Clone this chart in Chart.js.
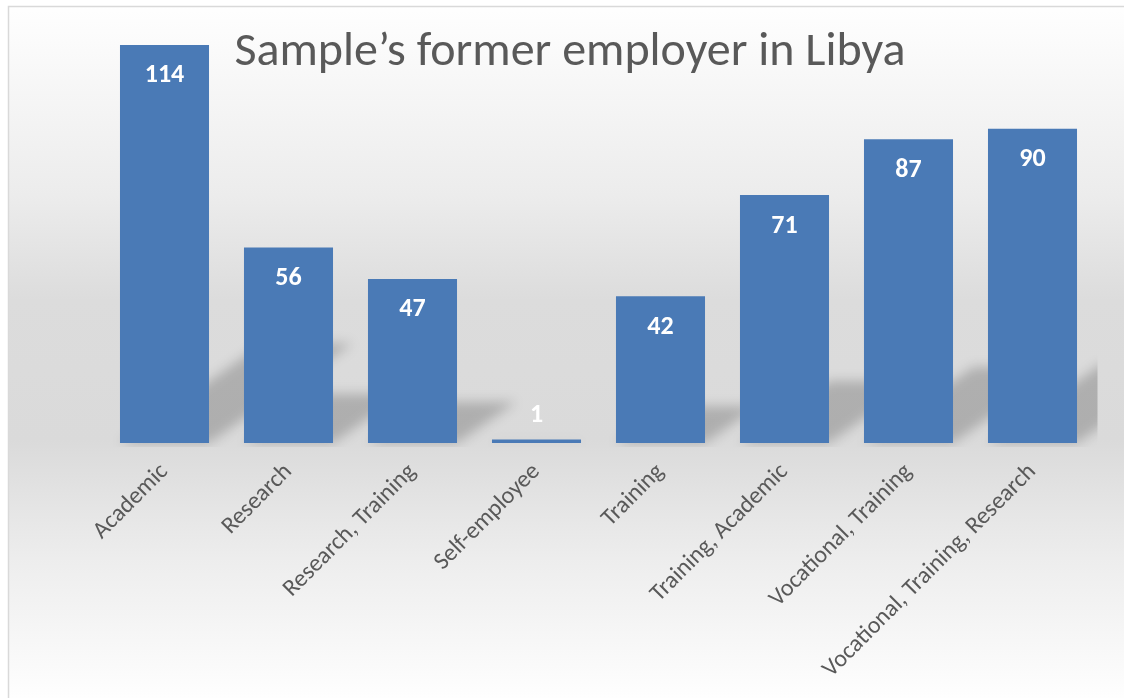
<!DOCTYPE html>
<html>
<head>
<meta charset="utf-8">
<script src="https://cdn.jsdelivr.net/npm/chart.js@4"></script>
<style>
  body { margin: 0; background: #ffffff; }
  canvas { display: block; }
</style>
</head>
<body>
<canvas id="employerChart" width="1124" height="698"></canvas>
<script>
// data
const categories = ['Academic', 'Research', 'Research, Training', 'Self-employee', 'Training', 'Training, Academic', 'Vocational, Training', 'Vocational, Training, Research'];
const counts = [114, 56, 47, 1, 42, 71, 87, 90];
const chartTitle = 'Sample\u2019s former employer in Libya';

const FONT = "Calibri, Carlito, 'Open Sans', sans-serif";
const GREY_TEXT = '#595959';

// background with a soft grey band and the thin frame at top/left
const framePlugin = {
    id: 'frame',
    beforeDraw(chart) {
        const ctx = chart.ctx;
        const w = chart.width, h = chart.height;
        ctx.save();
        const g = ctx.createLinearGradient(0, 0, 0, h);
        g.addColorStop(0, '#ffffff');
        g.addColorStop(0.28, '#ececec');
        g.addColorStop(0.43, '#dcdcdc');
        g.addColorStop(0.63, '#dadada');
        g.addColorStop(0.8, '#ededed');
        g.addColorStop(1, '#fefefe');
        ctx.fillStyle = '#ffffff';
        ctx.fillRect(0, 0, w, h);
        ctx.fillStyle = g;
        ctx.fillRect(9, 7, w - 9, h - 7);
        ctx.strokeStyle = '#d9d9d9';
        ctx.lineWidth = 1.5;
        ctx.beginPath();
        ctx.moveTo(8.5, h);
        ctx.lineTo(8.5, 6.5);
        ctx.lineTo(w, 6.5);
        ctx.stroke();
        ctx.restore();
    }
};

// skewed perspective shadow behind each bar
const shadowPlugin = {
    id: 'barShadows',
    beforeDatasetsDraw(chart) {
        const ctx = chart.ctx;
        const area = chart.chartArea;
        const meta = chart.getDatasetMeta(0);
        ctx.save();
        ctx.beginPath();
        ctx.rect(area.left, area.top, area.right - area.left + 3, area.bottom - area.top + 4);
        ctx.clip();
        ctx.filter = 'blur(6px)';
        ctx.fillStyle = 'rgba(0,0,0,0.2)';
        meta.data.forEach(bar => {
            const p = bar.getProps(['x', 'y', 'base', 'width'], true);
            const hgt = p.base - p.y;
            const dx = hgt * 0.36, dy = hgt * 0.25;
            const x0 = p.x - p.width / 2, x1 = p.x + p.width / 2;
            ctx.beginPath();
            ctx.moveTo(x0, p.base);
            ctx.lineTo(x1, p.base);
            ctx.lineTo(x1 + dx, p.base - dy);
            ctx.lineTo(x0 + dx, p.base - dy);
            ctx.closePath();
            ctx.fill();
        });
        ctx.restore();
    }
};

// white value labels at the top of the bars
const valueLabels = {
    id: 'valueLabels',
    afterDatasetsDraw(chart) {
        const ctx = chart.ctx;
        const meta = chart.getDatasetMeta(0);
        ctx.save();
        ctx.fillStyle = '#ffffff';
        ctx.font = 'bold 26px ' + FONT;
        ctx.textAlign = 'center';
        ctx.textBaseline = 'middle';
        meta.data.forEach((bar, i) => {
            const p = bar.getProps(['x', 'y', 'base'], true);
            const y = (p.base - p.y) > 45 ? p.y + 31 : p.y - 24;
            ctx.fillText(String(counts[i]), p.x, y);
        });
        ctx.restore();
    }
};

// big title drawn over the plot
const headingPlugin = {
    id: 'heading',
    afterDraw(chart) {
        const ctx = chart.ctx;
        ctx.save();
        ctx.fillStyle = GREY_TEXT;
        ctx.font = '48px ' + FONT;
        ctx.textAlign = 'center';
        ctx.textBaseline = 'middle';
        ctx.fillText(chartTitle, 570, 53);
        ctx.restore();
    }
};

const ctx = document.getElementById('employerChart').getContext('2d');

new Chart(ctx, {
    type: 'bar',
    data: {
        labels: categories,
        datasets: [{
            data: counts,
            categoryPercentage: 0.718,
            barPercentage: 1,
            backgroundColor: function(context) {
                const el = context.element;
                if (!el || el.y === undefined || !isFinite(el.y)) return '#4a7ab6';
                const g = context.chart.ctx.createLinearGradient(0, el.y, 0, el.base);
                g.addColorStop(0, '#5083c0');
                g.addColorStop(1, '#3a669f');
                return g;
            },
            borderWidth: 0
        }]
    },
    options: {
        responsive: false,
        animation: false,
        layout: {
            padding: { left: 102.5, right: 29.5, top: 24, bottom: 0 }
        },
        plugins: {
            legend: { display: false },
            tooltip: { enabled: false },
            title: { display: false }
        },
        scales: {
            y: {
                display: false,
                min: 0,
                max: 120
            },
            x: {
                grid: { display: false, drawTicks: false },
                border: { display: false },
                ticks: {
                    color: GREY_TEXT,
                    font: { family: FONT, size: 24 },
                    minRotation: 45,
                    maxRotation: 45,
                    autoSkip: false,
                    padding: 15
                },
                afterFit(scale) {
                    scale.height = 255;  // keeps the bar baseline at y=443
                }
            }
        }
    },
    plugins: [framePlugin, shadowPlugin, valueLabels, headingPlugin]
});
</script>
</body>
</html>
